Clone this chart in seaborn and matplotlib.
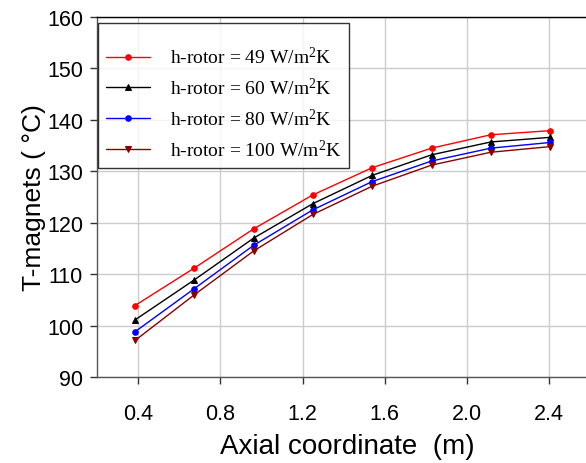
import matplotlib
matplotlib.use("Agg")
import matplotlib.pyplot as plt
import seaborn as sns
import pandas as pd

x_axial = [0.385, 0.674, 0.962, 1.25, 1.539, 1.828, 2.116, 2.405]
t_49 = [103.9, 111.2, 118.8, 125.4, 130.7, 134.5, 137.1, 137.9]
t_60 = [101.1, 108.9, 117.0, 123.7, 129.2, 133.2, 135.7, 136.6]
t_80 = [98.8, 107.2, 115.6, 122.5, 128.0, 132.0, 134.5, 135.6]
t_100 = [97.1, 106.0, 114.5, 121.6, 127.1, 131.2, 133.7, 134.8]
labels = ["h-rotor = 49 W/m$^2$K", "h-rotor = 60 W/m$^2$K",
          "h-rotor = 80 W/m$^2$K", "h-rotor = 100 W/m$^2$K"]
x_ticks = [0.4, 0.8, 1.2, 1.6, 2.0, 2.4]
y_ticks = [90, 100, 110, 120, 130, 140, 150, 160]

sns.set_style("white")
plt.rcParams["font.family"] = ["Liberation Sans", "DejaVu Sans"]
plt.rcParams["mathtext.fontset"] = "custom"
plt.rcParams["mathtext.rm"] = "Liberation Serif"
plt.rcParams["mathtext.it"] = "Liberation Serif:italic"
plt.rcParams["text.color"] = "black"
plt.rcParams["axes.labelcolor"] = "black"
plt.rcParams["xtick.color"] = "black"
plt.rcParams["ytick.color"] = "black"

fig = plt.figure(figsize=(5.86, 4.64), dpi=100)
ax = fig.add_axes([97/586, 86/464, 500/586, 360/464])

series = [t_49, t_60, t_80, t_100]
colors = ["#ff0000", "#000000", "#0000ff", "#880000"]
markers = ["o", "^", "o", "v"]
msizes = [4, 5, 4, 5]
for vals, lab, c, m, ms in zip(series, labels, colors, markers, msizes):
    df = pd.DataFrame({"x": x_axial, "y": vals})
    sns.lineplot(data=df, x="x", y="y", ax=ax, color=c, marker=m,
                 markersize=ms, markeredgecolor=c, linewidth=1, label=lab)

ax.set_xlim(0.2, 2.633)
ax.set_ylim(90, 160)
ax.set_xticks(x_ticks)
ax.set_xticklabels([f"{v:.1f}" for v in x_ticks])
ax.set_yticks(y_ticks)
ax.grid(True, color="#cccccc", linewidth=1)
ax.set_axisbelow(True)
ax.spines["right"].set_visible(False)
ax.spines["top"].set_color("#000000")
ax.spines["left"].set_color("#555555")
ax.spines["bottom"].set_color("#555555")
for s in ax.spines.values():
    s.set_linewidth(1)
ax.tick_params(axis="both", direction="out", length=5, width=1,
               color="#333333", labelsize=15.5, bottom=True, left=True)
ax.tick_params(axis="x", pad=14)
ax.tick_params(axis="y", pad=5)
ax.set_xlabel("Axial coordinate  (m)", fontsize=20, labelpad=6)
ax.set_ylabel("T-magnets ( \u00b0C)", fontsize=19, labelpad=1)

leg = ax.legend(loc="upper left", bbox_to_anchor=(0.001, 0.983),
                prop={"family": "Liberation Serif", "size": 14},
                title=" ", title_fontsize=1,
                frameon=True, fancybox=False, edgecolor="black",
                handlelength=2.3, labelspacing=0.5, borderpad=0.42,
                handletextpad=1.0, borderaxespad=0)
leg.get_frame().set_linewidth(1)
leg._legend_box.sep = 10

fig.savefig("out.png", dpi=100)
